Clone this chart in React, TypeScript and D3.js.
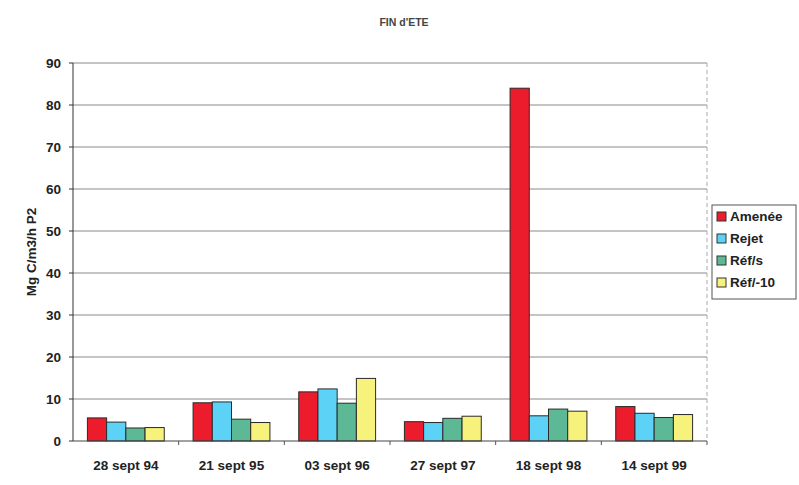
import React from "react";
import * as d3 from "d3";

const categories = ["28 sept 94", "21 sept 95", "03 sept 96", "27 sept 97", "18 sept 98", "14 sept 99"];
const seriesNames = ["Amenée", "Rejet", "Réf/s", "Réf/-10"];
const amenee = [5.5, 9.1, 11.7, 4.6, 84.0, 8.2];
const rejet = [4.5, 9.3, 12.4, 4.4, 6.0, 6.6];
const refS = [3.1, 5.2, 9.0, 5.4, 7.6, 5.6];
const ref10 = [3.2, 4.4, 14.9, 5.9, 7.1, 6.3];
const yTicks = [0, 10, 20, 30, 40, 50, 60, 70, 80, 90];

const seriesValues = [amenee, rejet, refS, ref10];
const colors = ["#ec1c2c", "#5cd2f6", "#5cb895", "#f6f27c"];

const W = 799;
const H = 485;
const margin = { left: 73, right: 92, top: 63, bottom: 44 };
const font = "Liberation Sans, Arial, sans-serif";

export default function App() {
  const x = d3.scaleBand().domain(categories).range([margin.left, W - margin.right]).paddingInner(0).paddingOuter(0);
  const y = d3.scaleLinear().domain([0, 90]).range([H - margin.bottom, margin.top]);
  const inner = d3.scaleBand().domain(seriesNames).range([0, x.bandwidth()]).paddingInner(0).paddingOuter(0.75);
  const x0 = margin.left;
  const x1 = W - margin.right;
  const y0 = y(0);

  return (
    <svg width={W} height={H} style={{ position: "absolute", left: 0, top: 0, background: "#fff" }} fontFamily={font}>
      <rect x={0} y={0} width={W} height={H} fill="#fff" />
      <text x={404} y={26} textAnchor="middle" fontSize={10.5} fontWeight="bold" fill="#444">FIN d'ETE</text>

      {yTicks.map((t) => (
        <g key={t}>
          {t > 0 && <line x1={x0} x2={x1} y1={y(t)} y2={y(t)} stroke="#8a8a8a" strokeWidth={1} />}
          <line x1={x0 - 4} x2={x0} y1={y(t)} y2={y(t)} stroke="#333" />
          <text x={x0 - 12} y={y(t) + 5} textAnchor="end" fontSize={13.5} fontWeight="bold" fill="#222">{t}</text>
        </g>
      ))}
      <line x1={x1} x2={x1} y1={y(90)} y2={y0} stroke="#aaa" strokeDasharray="4 3" />

      {categories.map((c, i) => (
        <g key={c}>
          {seriesNames.map((s, k) => {
            const v = seriesValues[k][i];
            const bx = (x(c) as number) + (inner(s) as number);
            return (
              <rect key={s} x={bx} y={y(v)} width={inner.bandwidth()} height={y0 - y(v)} fill={colors[k]} stroke="#2a2a2a" strokeWidth={1} />
            );
          })}
          <text x={(x(c) as number) + x.bandwidth() / 2} y={470} textAnchor="middle" fontSize={13.5} fontWeight="bold" fill="#222">{c}</text>
        </g>
      ))}

      {categories.map((c) => (
        <line key={"t" + c} x1={(x(c) as number) + x.bandwidth()} x2={(x(c) as number) + x.bandwidth()} y1={y0} y2={y0 + 4} stroke="#555" />
      ))}
      <line x1={x0} x2={x1} y1={y0} y2={y0} stroke="#444" />
      <line x1={x0} x2={x0} y1={y(90)} y2={y0} stroke="#333" />

      <text transform={`translate(36,${(y(90) + y0) / 2}) rotate(-90)`} textAnchor="middle" fontSize={13.5} fontWeight="bold" fill="#222">Mg C/m3/h P2</text>

      <rect x={712} y={205} width={84} height={94} fill="#fff" stroke="#555" />
      {seriesNames.map((s, k) => (
        <g key={s}>
          <rect x={717} y={212 + k * 22} width={9} height={9} fill={colors[k]} stroke="#333" />
          <text x={730} y={221 + k * 22} fontSize={13.5} fontWeight="bold" fill="#222">{s}</text>
        </g>
      ))}
    </svg>
  );
}
